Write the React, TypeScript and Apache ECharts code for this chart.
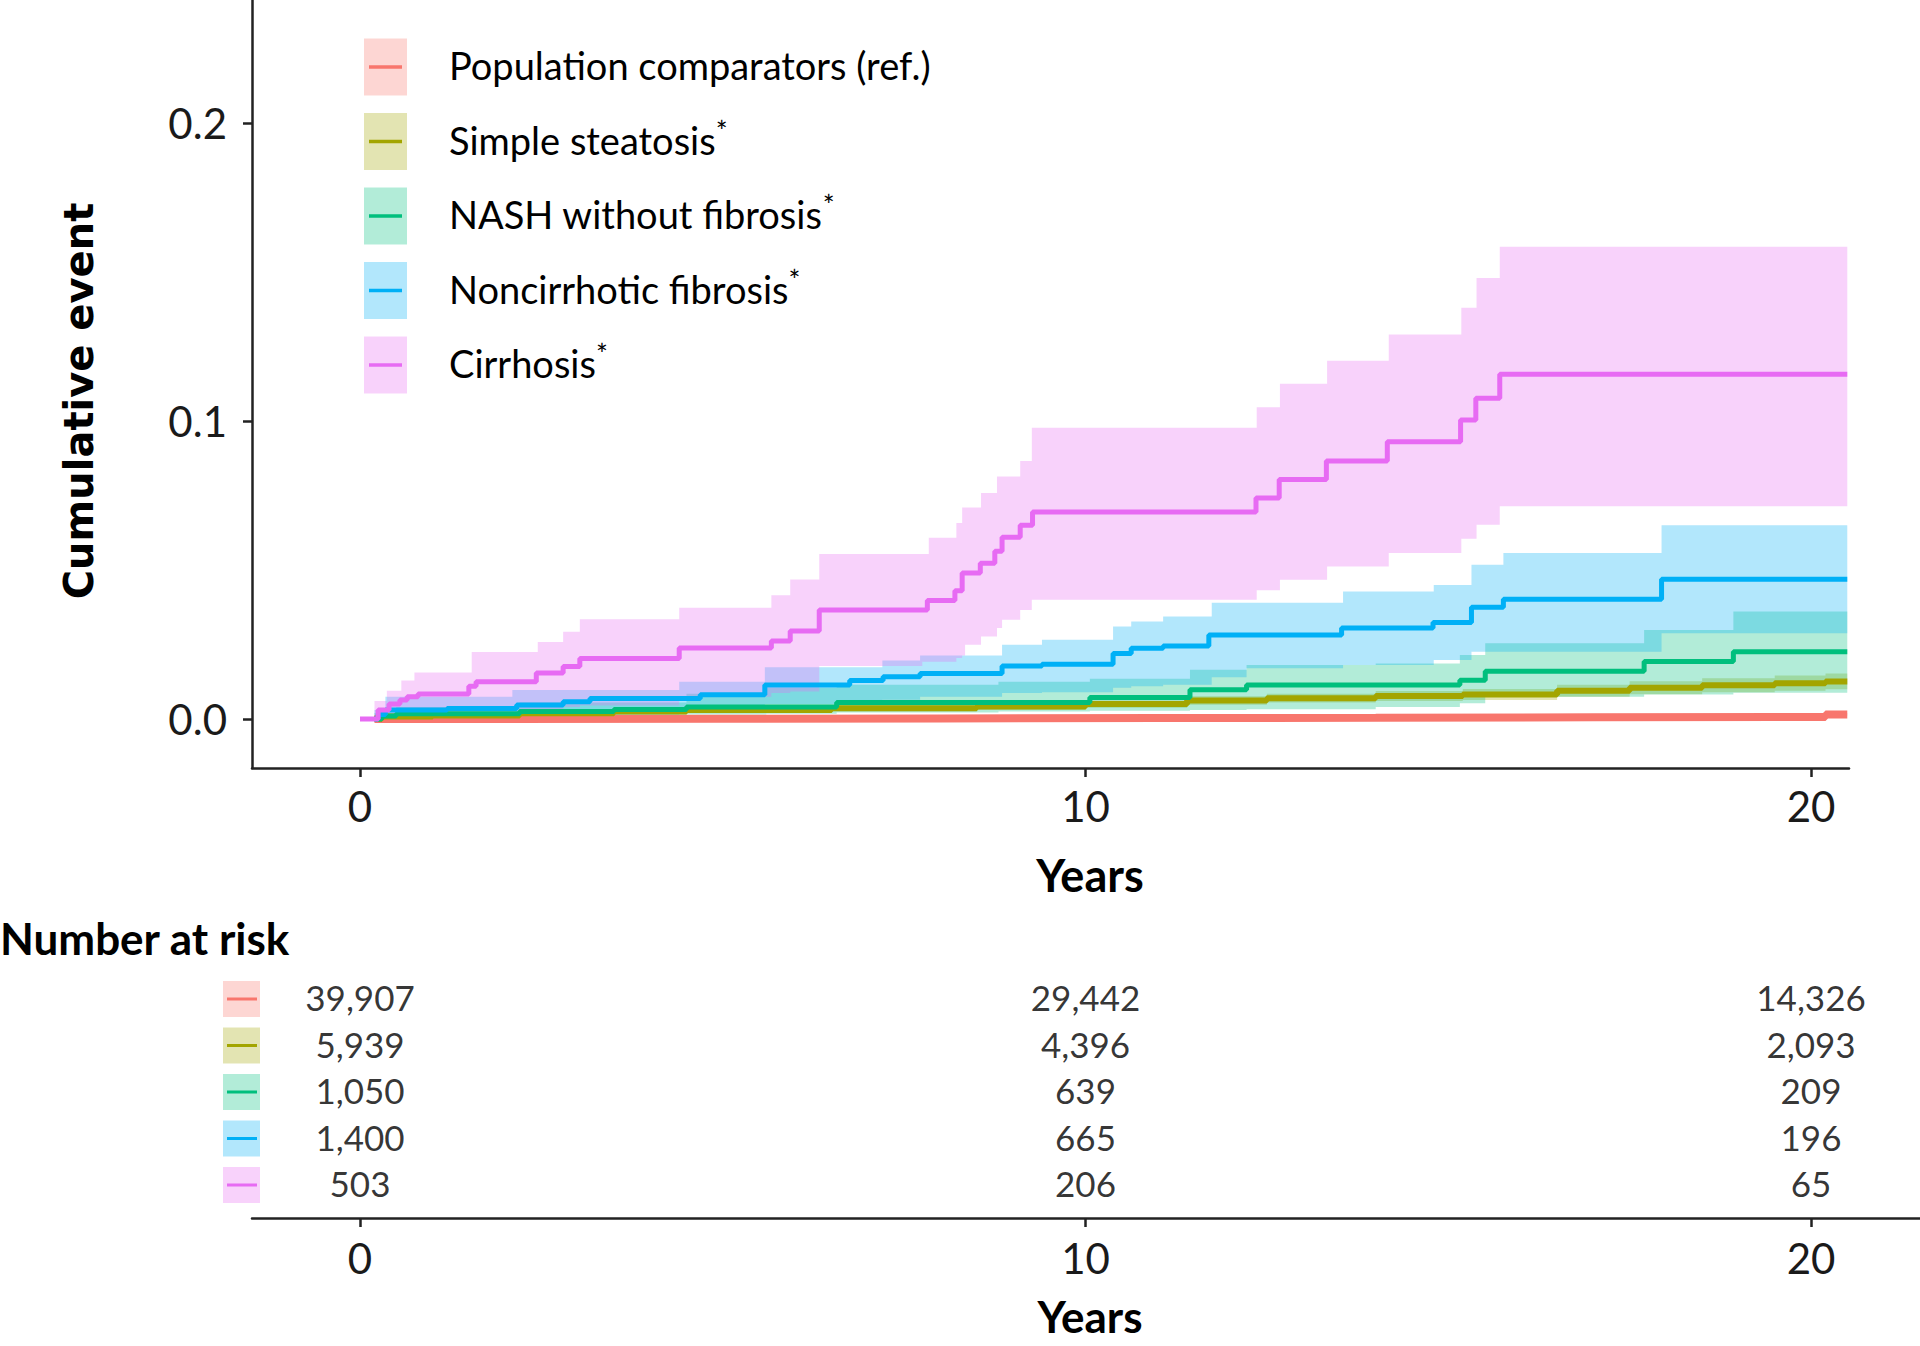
import React, { useEffect, useRef } from 'react';
import * as echarts from 'echarts';

// ---------------- data ----------------
const groupNames = ['Population comparators (ref.)', 'Simple steatosis', 'NASH without fibrosis', 'Noncirrhotic fibrosis', 'Cirrhosis'];
const groupStarred = [false, true, true, true, true];
const groupColors = ['#F8766D', '#A3A500', '#00BF7D', '#00B0F6', '#E76BF3'];

const yTicks = [0, 0.1, 0.2];
const xTicks = [0, 10, 20];

// step curves: [years, cumulative event]
const popLine = [[0.2, 0], [1, 0.0001], [5, 0.0002], [8, 0.0003], [11, 0.0004], [14, 0.0006], [17, 0.0007], [20.2, 0.0015], [20.5, 0.0015]];
const popBand = [[0.2, 0, 0.0003], [1, 0, 0.0004], [5, 0.0001, 0.0004], [8, 0.0002, 0.0005], [11, 0.0003, 0.0006], [14, 0.0004, 0.0008], [17, 0.0005, 0.001], [20.2, 0.0011, 0.002], [20.5, 0.0011, 0.002]];

const steatosisLine = [[0.2, 0], [0.3, 0.0008], [1, 0.0012], [2.2, 0.0019], [3.5, 0.0025], [4.5, 0.003], [6.5, 0.0036], [8.5, 0.0042], [10, 0.005], [11.4, 0.0062], [12.5, 0.007], [14, 0.0077], [15.2, 0.0082], [16.5, 0.0095], [17.5, 0.0105], [18.5, 0.0113], [19.5, 0.012], [20.2, 0.0126], [20.5, 0.0126]];
const steatosisBand = [[0.2, 0, 0.0012], [0.3, 0.0003, 0.0014], [1, 0.0006, 0.0018], [2.2, 0.0012, 0.0027], [3.5, 0.0017, 0.0033], [4.5, 0.0021, 0.0039], [6.5, 0.0026, 0.0046], [8.5, 0.0031, 0.0053], [10, 0.0038, 0.0062], [11.4, 0.0048, 0.0076], [12.5, 0.0055, 0.0085], [14, 0.006, 0.0094], [15.2, 0.0064, 0.0101], [16.5, 0.0075, 0.0115], [17.5, 0.0083, 0.0127], [18.5, 0.009, 0.0137], [19.5, 0.0095, 0.0146], [20.2, 0.01, 0.0153], [20.5, 0.01, 0.0153]];

const nashLine = [[0.2, 0], [0.3, 0.001], [0.5, 0.0018], [2.2, 0.0025], [3.5, 0.0032], [4.5, 0.004], [6.57, 0.0055], [10.06, 0.0072], [11.44, 0.0098], [12.22, 0.0114], [15.16, 0.013], [15.51, 0.016], [17.7, 0.0193], [18.93, 0.0226], [20.5, 0.0226]];
const nashBand = [[0.2, 0, 0.002], [0.5, 0.0003, 0.004], [2.2, 0.0008, 0.0055], [4.5, 0.0015, 0.0085], [5.6, 0.0018, 0.0105], [6.57, 0.0022, 0.0115], [8.8, 0.0025, 0.0125], [10.06, 0.0028, 0.0135], [11.44, 0.003, 0.0165], [12.22, 0.0033, 0.0181], [14, 0.004, 0.0186], [15.16, 0.0053, 0.0215], [15.51, 0.0075, 0.0254], [17.7, 0.0082, 0.0299], [18.93, 0.0088, 0.0361], [20.5, 0.0088, 0.0361]];

const fibrosisLine = [[0.2, 0], [0.25, 0.0015], [0.35, 0.003], [1.2, 0.0035], [2.16, 0.0047], [2.8, 0.0058], [3.17, 0.0069], [4.69, 0.0081], [5.58, 0.0114], [6.75, 0.0129], [7.21, 0.0142], [7.72, 0.0153], [8.85, 0.0178], [9.4, 0.0184], [10.38, 0.022], [10.63, 0.0237], [11.07, 0.0245], [11.7, 0.0282], [13.53, 0.0305], [14.79, 0.0324], [15.32, 0.0375], [15.76, 0.0402], [17.94, 0.0469], [20.5, 0.0469]];
const fibrosisBand = [[0.2, 0, 0.003], [0.35, 0.0005, 0.0075], [2.1, 0.0015, 0.0097], [4.4, 0.003, 0.0125], [5.58, 0.005, 0.0174], [7.2, 0.0065, 0.0196], [7.72, 0.0075, 0.0213], [8.85, 0.0087, 0.0249], [9.4, 0.009, 0.0266], [10.38, 0.0105, 0.031], [10.63, 0.011, 0.0327], [11.07, 0.0115, 0.0344], [11.74, 0.014, 0.039], [12.22, 0.017, 0.039], [13.55, 0.0181, 0.0428], [14.8, 0.0198, 0.045], [15.32, 0.0226, 0.0518], [15.76, 0.0226, 0.0557], [17.94, 0.0288, 0.065], [20.5, 0.0288, 0.065]];

const cirrhosisLine = [[0, 0], [0.2, 0], [0.25, 0.003], [0.4, 0.005], [0.55, 0.0064], [0.65, 0.0075], [0.8, 0.0084], [1.5, 0.011], [1.6, 0.0125], [2.43, 0.0154], [2.8, 0.0176], [3.03, 0.0203], [4.4, 0.0238], [5.67, 0.0262], [5.93, 0.0295], [6.33, 0.0366], [7.82, 0.0398], [8.2, 0.043], [8.3, 0.049], [8.55, 0.0523], [8.75, 0.0563], [8.85, 0.061], [9.1, 0.065], [9.27, 0.0695], [12.35, 0.0742], [12.67, 0.0804], [13.32, 0.0866], [14.16, 0.093], [15.17, 0.1003], [15.38, 0.1076], [15.71, 0.1157], [20.5, 0.1157]];
const cirrhosisBand = [[0.2, 0, 0.006], [0.37, 0, 0.0095], [0.57, 0.0005, 0.0129], [0.75, 0.001, 0.0156], [1.54, 0.002, 0.0225], [2.45, 0.003, 0.0258], [2.8, 0.004, 0.0293], [3.03, 0.0045, 0.0335], [4.4, 0.0075, 0.0373], [5.67, 0.0087, 0.0415], [5.93, 0.0092, 0.0468], [6.33, 0.0178, 0.0554], [7.75, 0.0192, 0.0554], [7.84, 0.0192, 0.0608], [8.22, 0.0205, 0.0658], [8.3, 0.0213, 0.071], [8.34, 0.0249, 0.071], [8.56, 0.0277, 0.0758], [8.78, 0.0305, 0.0814], [8.85, 0.0333, 0.0814], [9.1, 0.0366, 0.0866], [9.26, 0.04, 0.0977], [12.36, 0.0432, 0.1046], [12.68, 0.0467, 0.1125], [13.33, 0.0512, 0.1202], [14.18, 0.0557, 0.129], [15.18, 0.0605, 0.138], [15.39, 0.0652, 0.148], [15.71, 0.0714, 0.1585], [20.5, 0.0714, 0.1585]];

// number at risk
const riskTimes = [0, 10, 20];
const riskPop = [39907, 29442, 14326];
const riskSteatosis = [5939, 4396, 2093];
const riskNash = [1050, 639, 209];
const riskFibrosis = [1400, 665, 196];
const riskCirrhosis = [503, 206, 65];

const allLines = [popLine, steatosisLine, nashLine, fibrosisLine, cirrhosisLine];
const allBands = [popBand, steatosisBand, nashBand, fibrosisBand, cirrhosisBand];
const allRisk = [riskPop, riskSteatosis, riskNash, riskFibrosis, riskCirrhosis];
const lineWidths = [8, 6, 5, 5, 5];

// ---------------- layout ----------------
const W = 1920;
const H = 1346;
const AXIS_LEFT = 252;
const PLOT_RIGHT = 1849;
const PLOT_BOTTOM = 768;
const X0_PX = 360;
const PX_PER_YEAR = 72.55;
const Y0_PX = 719;
const PX_PER_UNIT = 2980;
const TABLE_TOP = 973.75;
const ROW_H = 46.5;
const TABLE_AXIS = 1218;

const xMin = (AXIS_LEFT - X0_PX) / PX_PER_YEAR;
const xMax = (PLOT_RIGHT - X0_PX) / PX_PER_YEAR;
const xMaxTable = (W - X0_PX) / PX_PER_YEAR;
const yMin = -(PLOT_BOTTOM - Y0_PX) / PX_PER_UNIT;
const yMax = Y0_PX / PX_PER_UNIT;
const tableRowsMax = (TABLE_AXIS - TABLE_TOP) / ROW_H;

const FONT = 'Lato, "Liberation Sans", sans-serif';
const AXIS_COLOR = '#222';

function hexAlpha(hex: string, a: number) {
  const r = parseInt(hex.slice(1, 3), 16);
  const g = parseInt(hex.slice(3, 5), 16);
  const b = parseInt(hex.slice(5, 7), 16);
  return `rgba(${r},${g},${b},${a})`;
}

function bandRenderer(band: number[][], fill: string) {
  return (params: any, api: any) => {
    if (params.dataIndex !== 0) return null;
    const top: number[][] = [];
    const bottom: number[][] = [];
    for (let i = 0; i < band.length; i++) {
      const [x, lo, hi] = band[i];
      const xNext = i + 1 < band.length ? band[i + 1][0] : x;
      top.push(api.coord([x, hi]), api.coord([xNext, hi]));
      bottom.push(api.coord([x, lo]), api.coord([xNext, lo]));
    }
    const points = top.concat(bottom.reverse());
    return { type: 'polygon', shape: { points }, style: { fill } };
  };
}

function buildOption() {
  const series: any[] = [];
  allBands.forEach((band, i) => {
    series.push({
      type: 'custom',
      name: groupNames[i] + ' CI',
      xAxisIndex: 0,
      yAxisIndex: 0,
      data: band,
      encode: { x: 0, y: [1, 2] },
      renderItem: bandRenderer(band, hexAlpha(groupColors[i], 0.3)),
      clip: true,
      silent: true,
      z: 1,
    });
  });
  allLines.forEach((line, i) => {
    series.push({
      type: 'line',
      name: groupNames[i],
      xAxisIndex: 0,
      yAxisIndex: 0,
      data: line,
      step: 'end',
      symbol: 'none',
      lineStyle: { color: groupColors[i], width: lineWidths[i] },
      silent: true,
      z: 3,
    });
  });
  // number at risk table
  const riskData: any[] = [];
  allRisk.forEach((row, r) => {
    row.forEach((n, c) => {
      riskData.push({ value: [riskTimes[c], r + 0.5], name: n.toLocaleString('en-US') });
    });
  });
  series.push({
    type: 'scatter',
    xAxisIndex: 1,
    yAxisIndex: 1,
    data: riskData,
    symbol: 'circle',
    symbolSize: 1,
    itemStyle: { color: 'rgba(0,0,0,0)' },
    label: {
      show: true,
      position: 'inside',
      formatter: '{b}',
      fontFamily: FONT,
      fontSize: 35,
      color: '#000',
    },
    silent: true,
    z: 3,
  });

  const graphic: any[] = [];
  // legend
  const legendTop = 67;
  const legendStep = 74.5;
  groupNames.forEach((name, i) => {
    const cy = legendTop + i * legendStep;
    graphic.push({
      type: 'rect',
      shape: { x: 364, y: cy - 28.5, width: 43, height: 57 },
      style: { fill: hexAlpha(groupColors[i], 0.3) },
      silent: true,
    });
    graphic.push({
      type: 'line',
      shape: { x1: 369, y1: cy, x2: 402, y2: cy },
      style: { stroke: groupColors[i], lineWidth: 3.5 },
      silent: true,
    });
    graphic.push({
      type: 'text',
      x: 449,
      y: cy - 2,
      style: {
        text: groupStarred[i] ? `{m|${name}}{s|*}` : `{m|${name}}`,
        rich: {
          m: { fontFamily: FONT, fontSize: 38, fill: '#000', lineHeight: 46 },
          s: { fontFamily: FONT, fontSize: 28, fill: '#000', lineHeight: 26, verticalAlign: 'top' },
        },
        align: 'left',
        verticalAlign: 'middle',
      },
      silent: true,
    });
  });
  // table keys
  groupNames.forEach((_, i) => {
    const cy = TABLE_TOP + (i + 0.5) * ROW_H + 2;
    graphic.push({
      type: 'rect',
      shape: { x: 223, y: cy - 18, width: 37, height: 36 },
      style: { fill: hexAlpha(groupColors[i], 0.3) },
      silent: true,
    });
    graphic.push({
      type: 'line',
      shape: { x1: 227, y1: cy, x2: 257, y2: cy },
      style: { stroke: groupColors[i], lineWidth: 3 },
      silent: true,
    });
  });
  // titles
  graphic.push({
    type: 'text',
    x: 79,
    y: 401,
    rotation: Math.PI / 2,
    style: { text: 'Cumulative event', fontFamily: '"DejaVu Sans", sans-serif', fontWeight: 'bold', fontSize: 40, fill: '#000', align: 'center', verticalAlign: 'middle' },
    silent: true,
  });
  graphic.push({
    type: 'text',
    x: 1090,
    y: 875,
    style: { text: 'Years', fontFamily: FONT, fontWeight: 'bold', fontSize: 45, fill: '#000', align: 'center', verticalAlign: 'middle' },
    silent: true,
  });
  graphic.push({
    type: 'text',
    x: 0,
    y: 938,
    style: { text: 'Number at risk', fontFamily: FONT, fontWeight: 'bold', fontSize: 44, fill: '#000', align: 'left', verticalAlign: 'middle' },
    silent: true,
  });
  graphic.push({
    type: 'text',
    x: 1090,
    y: 1316,
    style: { text: 'Years', fontFamily: FONT, fontWeight: 'bold', fontSize: 44, fill: '#000', align: 'center', verticalAlign: 'middle' },
    silent: true,
  });

  const axisLineStyle = { lineStyle: { color: AXIS_COLOR, width: 2.5 } };
  const tickStyle = { lineStyle: { color: AXIS_COLOR, width: 2.5 } };
  const labelStyle = { fontFamily: FONT, fontSize: 42, color: '#1a1a1a' };

  return {
    animation: false,
    backgroundColor: '#fff',
    grid: [
      { left: AXIS_LEFT, top: 0, width: PLOT_RIGHT - AXIS_LEFT, height: PLOT_BOTTOM, containLabel: false },
      { left: AXIS_LEFT, top: TABLE_TOP, width: W - AXIS_LEFT, height: TABLE_AXIS - TABLE_TOP, containLabel: false },
    ],
    xAxis: [
      {
        type: 'value',
        gridIndex: 0,
        min: xMin,
        max: xMax,
        axisLine: { show: true, onZero: false, ...axisLineStyle },
        axisTick: { show: true, length: 9, customValues: xTicks, ...tickStyle },
        axisLabel: { show: true, margin: 17, customValues: xTicks, ...labelStyle },
        splitLine: { show: false },
      },
      {
        type: 'value',
        gridIndex: 1,
        min: xMin,
        max: xMaxTable,
        axisLine: { show: true, onZero: false, ...axisLineStyle },
        axisTick: { show: true, length: 9, customValues: xTicks, ...tickStyle },
        axisLabel: { show: true, margin: 19, customValues: xTicks, ...labelStyle },
        splitLine: { show: false },
      },
    ],
    yAxis: [
      {
        type: 'value',
        gridIndex: 0,
        min: yMin,
        max: yMax,
        axisLine: { show: true, onZero: false, ...axisLineStyle },
        axisTick: { show: true, length: 9, customValues: yTicks, ...tickStyle },
        axisLabel: {
          show: true,
          margin: 25,
          customValues: yTicks,
          formatter: (v: number) => v.toFixed(1),
          ...labelStyle,
        },
        splitLine: { show: false },
      },
      {
        type: 'value',
        gridIndex: 1,
        min: 0,
        max: tableRowsMax,
        inverse: true,
        show: false,
        splitLine: { show: false },
      },
    ],
    series,
    graphic,
  };
}

export default function App() {
  const ref = useRef<HTMLDivElement>(null);
  useEffect(() => {
    if (!ref.current) return;
    const chart = echarts.init(ref.current, null, { renderer: 'svg' });
    chart.setOption(buildOption() as any);
    return () => chart.dispose();
  }, []);
  return <div ref={ref} style={{ position: 'absolute', left: 0, top: 0, width: W, height: H, background: '#fff' }} />;
}
